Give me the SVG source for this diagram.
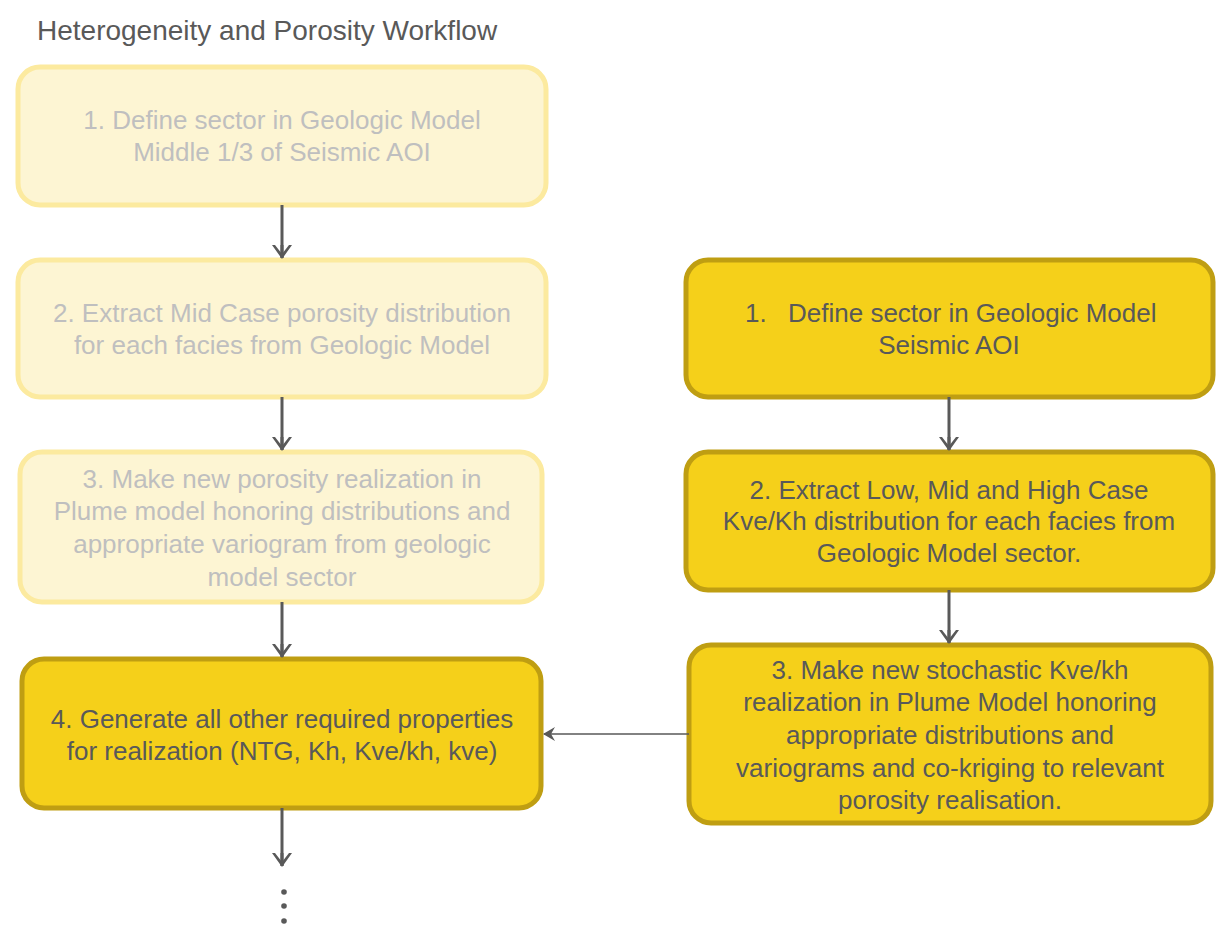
<svg xmlns="http://www.w3.org/2000/svg" width="1225" height="927" viewBox="0 0 1225 927">
  <style>
    text { font-family: "Liberation Sans", "DejaVu Sans", sans-serif; text-anchor: middle; }
    .title { font-size: 28px; fill: #595959; text-anchor: start; }
    .faded rect { fill: #FDF5D3; stroke: #FCEA9F; stroke-width: 5; }
    .faded text { fill: #BFBFBF; font-size: 26px; }
    .active rect { fill: #F5D01A; stroke: #BF9E12; stroke-width: 5; }
    .active text { fill: #595959; font-size: 26px; }
    .active text.lead { text-anchor: start; }
    .conn line { stroke: #595959; stroke-width: 3; }
    .dots circle { fill: #595959; }
  </style>
  <defs>
    <marker id="arrow" viewBox="0 0 14 20" refX="13" refY="10" markerWidth="14" markerHeight="20" markerUnits="userSpaceOnUse" orient="auto">
      <path d="M0,0 L14,10 L0,20 L0,17 L9,10 L0,3 Z" fill="#595959"/>
      <path d="M0,8.5 L13,8.5 L13,11.5 L0,11.5 Z" fill="#595959"/>
    </marker>
    <marker id="arrowThin" viewBox="0 0 12 14" refX="11" refY="7" markerWidth="12" markerHeight="14" markerUnits="userSpaceOnUse" orient="auto">
      <path d="M0,0 L12,7 L0,14 L4,7 Z" fill="#595959"/>
    </marker>
  </defs>

  <text class="title" x="37" y="40">Heterogeneity and Porosity Workflow</text>

  <!-- Porosity column (completed steps shown faded) -->
  <g id="por-1" class="faded">
    <rect x="18" y="67" width="528" height="138" rx="22"/>
    <text x="282" y="129">1. Define sector in Geologic Model</text>
    <text x="282" y="161">Middle 1/3 of Seismic AOI</text>
  </g>
  <g id="por-2" class="faded">
    <rect x="18" y="260" width="528" height="137" rx="22"/>
    <text x="282" y="322">2. Extract Mid Case porosity distribution</text>
    <text x="282" y="354">for each facies from Geologic Model</text>
  </g>
  <g id="por-3" class="faded">
    <rect x="20" y="452" width="522" height="150" rx="22"/>
    <text x="282" y="488">3. Make new porosity realization in</text>
    <text x="282" y="520">Plume model honoring distributions and</text>
    <text x="282" y="553">appropriate variogram from geologic</text>
    <text x="282" y="586">model sector</text>
  </g>
  <g id="por-4" class="active">
    <rect x="22" y="659" width="519" height="149" rx="22"/>
    <text x="282" y="728">4. Generate all other required properties</text>
    <text x="282" y="760">for realization (NTG, Kh, Kve/kh, kve)</text>
  </g>

  <!-- Permeability anisotropy column -->
  <g id="kv-1" class="active">
    <rect x="686" y="260" width="527" height="137" rx="22"/>
    <text class="lead" x="745" y="322">1.</text>
    <text class="lead" x="788" y="322">Define sector in Geologic Model</text>
    <text x="949" y="354">Seismic AOI</text>
  </g>
  <g id="kv-2" class="active">
    <rect x="686" y="452" width="527" height="138" rx="22"/>
    <text x="949" y="499">2. Extract Low, Mid and High Case</text>
    <text x="949" y="530">Kve/Kh distribution for each facies from</text>
    <text x="949" y="562">Geologic Model sector.</text>
  </g>
  <g id="kv-3" class="active">
    <rect x="689" y="645" width="522" height="178" rx="22"/>
    <text x="950" y="679">3. Make new stochastic Kve/kh</text>
    <text x="950" y="711">realization in Plume Model honoring</text>
    <text x="950" y="744">appropriate distributions and</text>
    <text x="950" y="777">variograms and co-kriging to relevant</text>
    <text x="950" y="809">porosity realisation.</text>
  </g>

  <!-- Connectors -->
  <g id="connectors" class="conn">
    <line x1="282" y1="205" x2="282" y2="258" marker-end="url(#arrow)"/>
    <line x1="282" y1="397" x2="282" y2="450" marker-end="url(#arrow)"/>
    <line x1="282" y1="602" x2="282" y2="657" marker-end="url(#arrow)"/>
    <line x1="282" y1="808" x2="282" y2="866" marker-end="url(#arrow)"/>
    <line x1="949" y1="397" x2="949" y2="450" marker-end="url(#arrow)"/>
    <line x1="949" y1="590" x2="949" y2="643" marker-end="url(#arrow)"/>
    <line x1="689" y1="734" x2="544" y2="734" style="stroke-width:1.5" marker-end="url(#arrowThin)"/>
  </g>

  <g id="continuation" class="dots">
    <circle cx="284" cy="892" r="2.8"/>
    <circle cx="284" cy="906" r="2.8"/>
    <circle cx="284" cy="921" r="2.8"/>
  </g>
</svg>
